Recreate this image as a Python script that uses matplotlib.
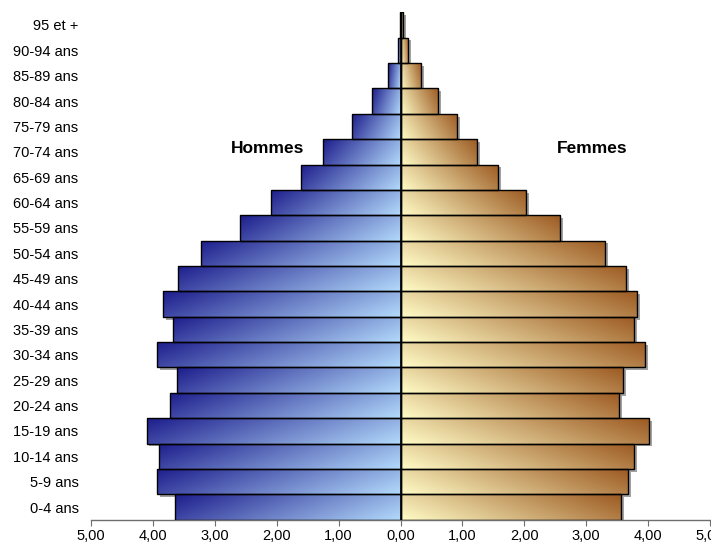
import numpy as np
import matplotlib
matplotlib.use("Agg")
import matplotlib.pyplot as plt
import matplotlib.patheffects as pe
from matplotlib.colors import to_rgb
from matplotlib.ticker import FuncFormatter

# Pyramide des âges (% de la population)
age_groups = ["0-4 ans", "5-9 ans", "10-14 ans", "15-19 ans", "20-24 ans",
              "25-29 ans", "30-34 ans", "35-39 ans", "40-44 ans", "45-49 ans",
              "50-54 ans", "55-59 ans", "60-64 ans", "65-69 ans", "70-74 ans",
              "75-79 ans", "80-84 ans", "85-89 ans", "90-94 ans", "95 et +"]
hommes = [3.65, 3.93, 3.90, 4.10, 3.72, 3.61, 3.93, 3.67, 3.83, 3.59,
          3.22, 2.59, 2.10, 1.61, 1.26, 0.79, 0.46, 0.21, 0.04, 0.01]
femmes = [3.56, 3.68, 3.77, 4.02, 3.53, 3.60, 3.95, 3.77, 3.82, 3.64,
          3.30, 2.58, 2.03, 1.58, 1.24, 0.91, 0.61, 0.33, 0.12, 0.04]
x_ticks = [-5, -4, -3, -2, -1, 0, 1, 2, 3, 4, 5]

plt.rcParams["font.family"] = ["Liberation Sans", "DejaVu Sans"]


def gradient(dark, light, dark_side):
    """Diagonal gradient image: dark at top corner of dark_side, light opposite."""
    nx, ny = 128, 16
    x = np.linspace(0, 1, nx)[None, :]
    y = np.linspace(0, 1, ny)[:, None]
    if dark_side == "left":
        t = 0.78 * x + 0.22 * y
    else:
        t = 0.78 * (1 - x) + 0.22 * y
    t = np.clip(t, 0, 1)[..., None]
    d = np.array(to_rgb(dark))
    l = np.array(to_rgb(light))
    return d * (1 - t) + l * t


fig = plt.figure(figsize=(7.11, 5.44), dpi=100)
ax = fig.add_axes([91 / 711, 24.3 / 544, 619 / 711, 507.4 / 544])

y = np.arange(len(age_groups))
left_vals = -np.array(hommes)
right_vals = np.array(femmes)

shadow = [pe.SimplePatchShadow(offset=(2, -2), shadow_rgbFace="#8a8a8a", alpha=0.8)]
ax.barh(y, left_vals, height=1.0, color="white", edgecolor="none",
        path_effects=shadow, zorder=1)
ax.barh(y, right_vals, height=1.0, color="white", edgecolor="none",
        path_effects=shadow, zorder=1)

img_m = gradient("#1e1e8c", "#b2d9fb", "left")
img_f = gradient("#9c5a22", "#fffbc6", "right")

bars_m = ax.barh(y, left_vals, height=1.0, facecolor="none",
                 edgecolor="black", linewidth=1.0, zorder=3)
bars_f = ax.barh(y, right_vals, height=1.0, facecolor="none",
                 edgecolor="black", linewidth=1.0, zorder=3)

for bars, img in ((bars_m, img_m), (bars_f, img_f)):
    for b in bars:
        x0, x1 = b.get_x(), b.get_x() + b.get_width()
        y0, y1 = b.get_y(), b.get_y() + b.get_height()
        im = ax.imshow(img, extent=(min(x0, x1), max(x0, x1), y0, y1),
                       aspect="auto", origin="upper", zorder=2,
                       interpolation="bilinear")
        im.set_clip_path(b)

ax.axvline(0, color="black", linewidth=1.2, zorder=4)

ax.set_xlim(-5, 5)
ax.set_ylim(-0.5, len(age_groups) - 0.5)
ax.set_xticks(x_ticks)
ax.xaxis.set_major_formatter(FuncFormatter(lambda v, p: f"{abs(v):.2f}".replace(".", ",")))
ax.set_yticks(y)
ax.set_yticklabels(age_groups)

for side in ("top", "right", "left"):
    ax.spines[side].set_visible(False)
ax.spines["bottom"].set_color("#6e6e6e")
ax.spines["bottom"].set_linewidth(1.0)
ax.tick_params(axis="x", direction="out", length=4, color="#6e6e6e",
               labelsize=10.5, pad=2.5)
ax.tick_params(axis="y", length=0, labelsize=10.5, pad=9)

ax.text(-2.15, 14.15, "Hommes", ha="center", va="center",
        fontsize=12.5, fontweight="bold", zorder=5)
ax.text(3.1, 14.15, "Femmes", ha="center", va="center",
        fontsize=12.5, fontweight="bold", zorder=5)

fig.savefig("out.png", dpi=100)
